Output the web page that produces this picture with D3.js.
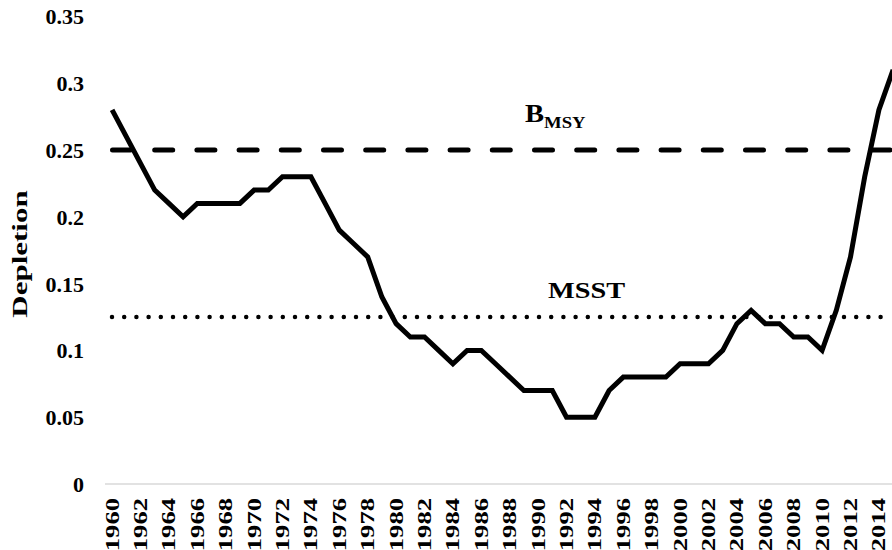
<!DOCTYPE html>
<html>
<head>
<meta charset="utf-8">
<script src="https://cdn.jsdelivr.net/npm/d3@7"></script>
<style>
    body { margin: 0; background: #fff; }
    svg { display: block; }
    text { font-family: "Times New Roman", Times, "Liberation Serif", serif; font-weight: 700; fill: #000; }
</style>
</head>
<body>
<div id="chart"></div>
<script>
// categories
let years = d3.range(1960, 2016);
// depletion per year
let depletion = [0.28, 0.26, 0.24, 0.22, 0.21, 0.20, 0.21, 0.21, 0.21, 0.21,
    0.22, 0.22, 0.23, 0.23, 0.23, 0.21, 0.19, 0.18, 0.17, 0.14,
    0.12, 0.11, 0.11, 0.10, 0.09, 0.10, 0.10, 0.09, 0.08, 0.07,
    0.07, 0.07, 0.05, 0.05, 0.05, 0.07, 0.08, 0.08, 0.08, 0.08,
    0.09, 0.09, 0.09, 0.10, 0.12, 0.13, 0.12, 0.12, 0.11, 0.11,
    0.10, 0.13, 0.17, 0.23, 0.28, 0.31];
let yTicks = [0, 0.05, 0.1, 0.15, 0.2, 0.25, 0.3, 0.35];
let refLevels = [0.25, 0.125];   // B_MSY, MSST

let width = 892;
let height = 550;

let svg = d3.select("#chart")
    .append("svg")
    .attr("width", width)
    .attr("height", height);

// шкалы
let scaleX = d3.scaleBand()
    .domain(years)
    .range([105, 105 + years.length * 14.2]);

let scaleY = d3.scaleLinear()
    .domain([0, 0.35])
    .range([484, 16.4]);

let xc = d => scaleX(d) + scaleX.bandwidth() / 2;

// ось OY - только подписи
let axisY = d3.axisLeft(scaleY)
    .tickValues(yTicks)
    .tickSize(0)
    .tickPadding(0)
    .tickFormat(d => String(d));

svg.append("g")
    .attr("class", "y-axis")
    .attr("transform", "translate(84, 0)")
    .call(axisY)
    .call(g => g.select(".domain").remove())
    .call(g => g.attr("font-family", null).attr("font-size", null))
    .selectAll("text")
    .style("font-size", "22px")
    .attr("dy", "0.34em");

// ось OX - светлая линия и повернутые подписи
svg.append("line")
    .attr("x1", scaleX.range()[0])
    .attr("x2", width)
    .attr("y1", scaleY(0))
    .attr("y2", scaleY(0))
    .style("stroke", "#d9d9d9")
    .style("stroke-width", 1.5);

svg.append("g")
    .attr("class", "x-axis")
    .selectAll("text")
    .data(years.filter(d => d % 2 === 0))
    .enter()
    .append("text")
    .attr("transform", d => `translate(${xc(d) + 6.5}, 498) rotate(-90) scale(1.4, 1)`)
    .style("text-anchor", "end")
    .style("font-size", "19px")
    .text(d => d);

// подпись оси OY
svg.append("text")
    .attr("transform", "translate(27, 254) rotate(-90) scale(1.55, 1)")
    .style("text-anchor", "middle")
    .style("font-size", "20px")
    .text("Depletion");

// линия B_MSY
svg.append("line")
    .attr("x1", 112.5)
    .attr("x2", width)
    .attr("y1", scaleY(refLevels[0]))
    .attr("y2", scaleY(refLevels[0]))
    .style("stroke", "#000")
    .style("stroke-width", 5)
    .style("stroke-linecap", "round")
    .style("stroke-dasharray", "18 24.2");

// линия MSST
svg.append("line")
    .attr("x1", 112)
    .attr("x2", width)
    .attr("y1", scaleY(refLevels[1]))
    .attr("y2", scaleY(refLevels[1]))
    .style("stroke", "#000")
    .style("stroke-width", 4.5)
    .style("stroke-linecap", "round")
    .style("stroke-dasharray", "0 12.2");

let bLabel = svg.append("text")
    .attr("transform", "translate(525, 122) scale(1.1, 1)")
    .style("font-size", "26px");
bLabel.append("tspan").text("B");
bLabel.append("tspan")
    .attr("dy", 6)
    .style("font-size", "17px")
    .text("MSY");

svg.append("text")
    .attr("transform", "translate(548, 298) scale(1.18, 1)")
    .style("font-size", "24px")
    .text("MSST");

// кривая истощения
let line = d3.line()
    .x((d, i) => xc(years[i]))
    .y(d => scaleY(d));

svg.append("path")
    .datum(depletion)
    .attr("d", line)
    .style("fill", "none")
    .style("stroke", "#000")
    .style("stroke-width", 5)
    .style("stroke-linejoin", "miter");
</script>
</body>
</html>
